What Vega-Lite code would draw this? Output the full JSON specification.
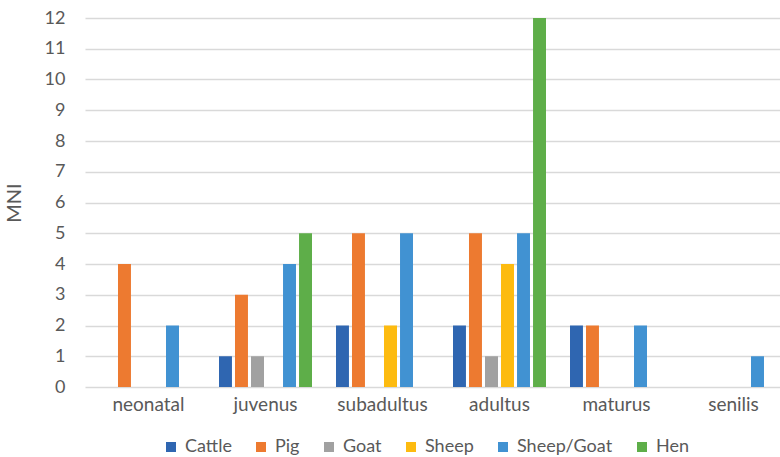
{
  "$schema": "https://vega.github.io/schema/vega-lite/v6.json",
  "width": 695,
  "height": 369,
  "autosize": {"type": "none"},
  "padding": {"left": 85, "top": 18, "right": 0, "bottom": 70},
  "background": "white",
  "config": {
    "view": {"stroke": null},
    "font": "Lato"
  },
  "data": {
    "values": [
      {"age": "neonatal", "species": "Pig", "mni": 4},
      {"age": "neonatal", "species": "Sheep/Goat", "mni": 2},
      {"age": "juvenus", "species": "Cattle", "mni": 1},
      {"age": "juvenus", "species": "Pig", "mni": 3},
      {"age": "juvenus", "species": "Goat", "mni": 1},
      {"age": "juvenus", "species": "Sheep/Goat", "mni": 4},
      {"age": "juvenus", "species": "Hen", "mni": 5},
      {"age": "subadultus", "species": "Cattle", "mni": 2},
      {"age": "subadultus", "species": "Pig", "mni": 5},
      {"age": "subadultus", "species": "Sheep", "mni": 2},
      {"age": "subadultus", "species": "Sheep/Goat", "mni": 5},
      {"age": "adultus", "species": "Cattle", "mni": 2},
      {"age": "adultus", "species": "Pig", "mni": 5},
      {"age": "adultus", "species": "Goat", "mni": 1},
      {"age": "adultus", "species": "Sheep", "mni": 4},
      {"age": "adultus", "species": "Sheep/Goat", "mni": 5},
      {"age": "adultus", "species": "Hen", "mni": 12},
      {"age": "maturus", "species": "Cattle", "mni": 2},
      {"age": "maturus", "species": "Pig", "mni": 2},
      {"age": "maturus", "species": "Sheep/Goat", "mni": 2},
      {"age": "senilis", "species": "Sheep/Goat", "mni": 1}
    ]
  },
  "mark": {"type": "bar"},
  "encoding": {
    "x": {
      "field": "age",
      "type": "nominal",
      "sort": ["neonatal", "juvenus", "subadultus", "adultus", "maturus", "senilis"],
      "scale": {"paddingInner": 0.205, "paddingOuter": 0.0726, "align": 1},
      "axis": {
        "title": null,
        "labelAngle": 0,
        "labelFontSize": 19,
        "labelColor": "#595959",
        "labelPadding": 8,
        "ticks": false,
        "domain": false
      }
    },
    "xOffset": {
      "field": "species",
      "type": "nominal",
      "scale": {
        "domain": ["Cattle", "Pig", "Goat", "Sheep", "Sheep/Goat", "Hen"],
        "paddingInner": 0.19,
        "paddingOuter": 0
      }
    },
    "y": {
      "field": "mni",
      "type": "quantitative",
      "scale": {"domain": [0, 12], "nice": false},
      "axis": {
        "title": "MNI",
        "titleFontSize": 20,
        "titleFontWeight": "normal",
        "titleColor": "#595959",
        "titlePadding": 20,
        "values": [0, 1, 2, 3, 4, 5, 6, 7, 8, 9, 10, 11, 12],
        "labelOverlap": false,
        "labelFontSize": 18,
        "labelColor": "#595959",
        "labelPadding": 20,
        "ticks": false,
        "domain": false,
        "gridColor": "#d9d9d9",
        "gridWidth": 1.3
      }
    },
    "color": {
      "field": "species",
      "type": "nominal",
      "scale": {
        "domain": ["Cattle", "Pig", "Goat", "Sheep", "Sheep/Goat", "Hen"],
        "range": ["#2f66b1", "#ed7a30", "#a1a1a1", "#fdbb10", "#4192d2", "#5eae49"]
      },
      "legend": {
        "title": null,
        "orient": "none",
        "direction": "horizontal",
        "legendX": 77,
        "legendY": 420,
        "symbolType": "square",
        "symbolSize": 100,
        "symbolStrokeWidth": 0,
        "labelFontSize": 18,
        "labelColor": "#595959",
        "labelOffset": 5,
        "columnPadding": 20
      }
    }
  }
}
